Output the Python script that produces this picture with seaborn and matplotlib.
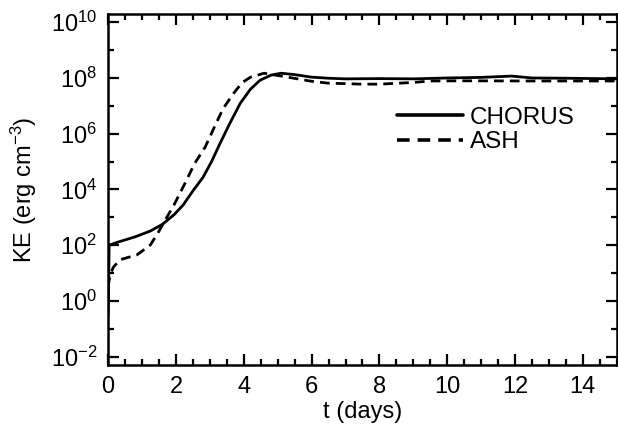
import numpy as np
import pandas as pd
import matplotlib
matplotlib.use("Agg")
import matplotlib.pyplot as plt
import seaborn as sns
from matplotlib.ticker import FixedLocator, NullFormatter

# ---- data ----
chorus_t = [0, 0.03, 0.3, 0.8, 1.24, 1.6, 1.95, 2.21, 2.5, 2.8, 3.05, 3.3, 3.6,
            3.9, 4.2, 4.48, 4.8, 5.1, 5.5, 6.0, 6.5, 7.0, 8.0, 9.0, 10.0, 11.0,
            11.9, 12.5, 13.5, 15]
chorus_ke = [3.2e-1, 1.0e2, 1.3e2, 2.0e2, 3.2e2, 5.6e2, 1.26e3, 2.75e3, 8.9e3,
             2.75e4, 1.0e5, 4.5e5, 2.5e6, 1.26e7, 4.0e7, 8.3e7, 1.26e8, 1.48e8,
             1.32e8, 1.07e8, 9.8e7, 9.3e7, 9.5e7, 9.3e7, 1.0e8, 1.05e8, 1.17e8,
             1.0e8, 9.8e7, 9.3e7]
ash_t = [0, 0.05, 0.15, 0.35, 0.85, 1.24, 1.45, 1.68, 1.93, 2.27, 2.55, 2.86,
         3.2, 3.4, 3.7, 3.95, 4.2, 4.6, 5.2, 6.0, 6.5, 7.5, 8.0, 9.0, 9.5, 10.5,
         12.4, 15]
ash_ke = [3.2e0, 7.9e0, 1.6e1, 3.0e1, 4.5e1, 1.0e2, 2.5e2, 7.9e2, 2.6e3, 1.7e4,
          8.5e4, 3.3e5, 2.6e6, 8.3e6, 2.8e7, 6.8e7, 1.07e8, 1.48e8, 1.12e8,
          7.6e7, 6.5e7, 6.0e7, 6.0e7, 6.9e7, 7.8e7, 7.9e7, 7.8e7, 7.8e7]
labels = ["CHORUS", "ASH"]
xticks = [0, 2, 4, 6, 8, 10, 12, 14]
yexp = [-2, 0, 2, 4, 6, 8, 10]

df = pd.concat([
    pd.DataFrame({"t": chorus_t, "KE": chorus_ke, "model": labels[0]}),
    pd.DataFrame({"t": ash_t, "KE": ash_ke, "model": labels[1]}),
])

sns.set_theme(style="ticks")
plt.rcParams["font.family"] = ["Liberation Sans", "DejaVu Sans"]
plt.rcParams["mathtext.fontset"] = "custom"
plt.rcParams["mathtext.rm"] = "Liberation Sans"
plt.rcParams["mathtext.it"] = "Liberation Sans"
plt.rcParams["text.color"] = "black"
plt.rcParams["axes.labelcolor"] = "black"

fig = plt.figure(figsize=(6.18, 4.33), dpi=100)
ax = fig.add_axes([0.175, 0.157, 0.823, 0.811])

sns.lineplot(data=df, x="t", y="KE", style="model", color="black",
             dashes={labels[0]: "", labels[1]: (3.5, 2.2)}, linewidth=2.0,
             ax=ax, legend=True, sort=False, estimator=None)

ax.set_yscale("log")
ax.set_xlim(0, 15)
ax.set_ylim(5e-3, 2e10)

ax.xaxis.set_major_locator(FixedLocator(xticks))
ax.xaxis.set_minor_locator(FixedLocator(np.arange(0, 15.01, 0.5)))
ax.yaxis.set_major_locator(FixedLocator([10.0 ** e for e in yexp]))
ax.yaxis.set_minor_locator(FixedLocator([10.0 ** (e + 1) for e in yexp[:-1]]))
ax.yaxis.set_minor_formatter(NullFormatter())
ax.set_xticklabels([str(v) for v in xticks])
ax.set_yticklabels([r"$10^{%d}$" % e for e in yexp])

ax.tick_params(which="both", direction="in", top=True, right=True,
               width=1.6, colors="black", labelsize=17, pad=8)
ax.tick_params(which="major", length=8)
ax.tick_params(which="minor", length=4)
for s in ax.spines.values():
    s.set_linewidth(1.8)
    s.set_color("black")

ax.set_xlabel("t (days)", fontsize=17, labelpad=2)
ax.set_ylabel(r"KE (erg cm$^{-3}$)", fontsize=17, labelpad=8)

leg = ax.legend(loc="upper left", bbox_to_anchor=(0.568, 0.735), frameon=False,
                fontsize=17.5, handlelength=2.7, handletextpad=0.3,
                labelspacing=0.1, borderaxespad=0, borderpad=0)
for h in leg.get_lines():
    h.set_linewidth(2.6)
for t in leg.get_texts():
    t.set_color("black")

fig.savefig("out.png", dpi=100)
